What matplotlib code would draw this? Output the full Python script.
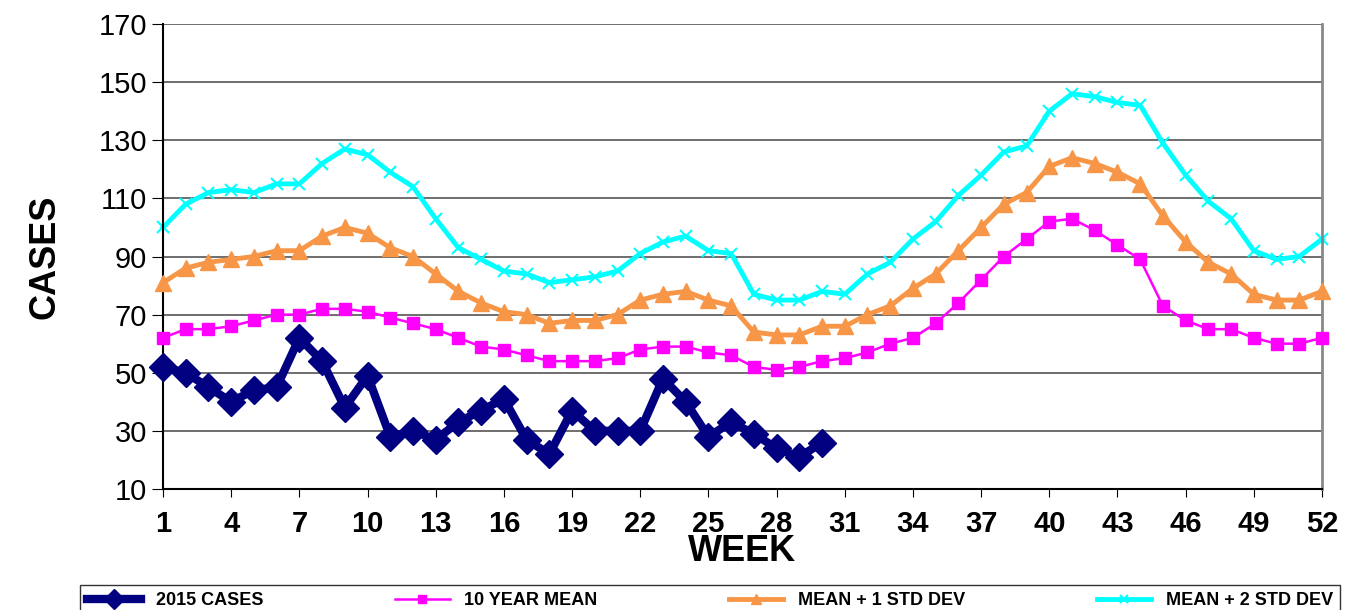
import matplotlib
matplotlib.use("Agg")
import matplotlib.pyplot as plt

plt.rcParams["font.family"] = ["Liberation Sans", "DejaVu Sans"]

weeks = list(range(1, 53))
cases_2015 = [52, 50, 45, 40, 44, 45, 62, 54, 38, 49, 28, 30, 27, 33, 37, 41, 27, 22, 37, 30,
              30, 30, 48, 40, 28, 33, 29, 24, 21, 26]
mean_10yr = [62, 65, 65, 66, 68, 70, 70, 72, 72, 71, 69, 67, 65, 62, 59, 58, 56, 54, 54, 54,
             55, 58, 59, 59, 57, 56, 52, 51, 52, 54, 55, 57, 60, 62, 67, 74, 82, 90, 96, 102,
             103, 99, 94, 89, 73, 68, 65, 65, 62, 60, 60, 62]
mean_1sd = [81, 86, 88, 89, 90, 92, 92, 97, 100, 98, 93, 90, 84, 78, 74, 71, 70, 67, 68, 68,
            70, 75, 77, 78, 75, 73, 64, 63, 63, 66, 66, 70, 73, 79, 84, 92, 100, 108, 112, 121,
            124, 122, 119, 115, 104, 95, 88, 84, 77, 75, 75, 78]
mean_2sd = [100, 108, 112, 113, 112, 115, 115, 122, 127, 125, 119, 114, 103, 93, 89, 85, 84, 81, 82, 83,
            85, 91, 95, 97, 92, 91, 77, 75, 75, 78, 77, 84, 88, 96, 102, 111, 118, 126, 128, 140,
            146, 145, 143, 142, 129, 118, 109, 103, 92, 89, 90, 96]

fig = plt.figure(figsize=(13.53, 6.10), dpi=100)
ax = fig.add_axes([163 / 1353, 1 - 489 / 610, (1322 - 163) / 1353, (489 - 24) / 610])

ax.plot(weeks, mean_2sd, color="#00FFFF", linewidth=3.5, marker="x", markersize=9,
        markeredgewidth=1.5, label="MEAN + 2 STD DEV", zorder=2, clip_on=False)
ax.plot(weeks, mean_1sd, color="#F79646", linewidth=3.5, marker="^", markersize=11,
        markerfacecolor="#F79646", label="MEAN + 1 STD DEV", zorder=3, clip_on=False)
ax.plot(weeks, mean_10yr, color="#FF00FF", linewidth=1.8, marker="s", markersize=8,
        label="10 YEAR MEAN", zorder=4, clip_on=False)
ax.plot(weeks[:len(cases_2015)], cases_2015, color="#000080", linewidth=6, marker="D",
        markersize=14, label="2015 CASES", zorder=5, clip_on=False)

ax.set_xlim(1, 52)
ax.set_ylim(10, 170)
ax.set_yticks(range(10, 171, 20))
ax.set_xticks(range(1, 53, 3))
ax.grid(axis="y", color="#555555", linewidth=1.2)
ax.set_axisbelow(True)
ax.tick_params(axis="y", labelsize=21, length=8, direction="out")
ax.tick_params(axis="x", labelsize=21, length=6, direction="out", pad=9)
for lab in ax.get_xticklabels():
    lab.set_fontweight("bold")
ax.spines["top"].set_visible(False)
ax.spines["right"].set_color("#888888")
ax.spines["right"].set_linewidth(2)
ax.spines["left"].set_linewidth(1.5)
ax.spines["bottom"].set_linewidth(1.5)
ax.set_ylabel("CASES", fontsize=26, fontweight="bold", labelpad=26)
ax.set_xlabel("WEEK", fontsize=26, fontweight="bold", labelpad=-3)

handles, labels = ax.get_legend_handles_labels()
order = [3, 2, 1, 0]
leg = fig.legend([handles[i] for i in order], [labels[i] for i in order],
                 loc="lower left", bbox_to_anchor=(80 / 1353, -0.01, 1260 / 1353, 40 / 610),
                 mode="expand", ncol=4, frameon=True, fancybox=False, edgecolor="black",
                 prop={"weight": "bold", "size": 13}, markerscale=0.7, handlelength=3,
                 borderaxespad=0)
leg.get_frame().set_linewidth(1)

fig.savefig("out.png", dpi=100)
